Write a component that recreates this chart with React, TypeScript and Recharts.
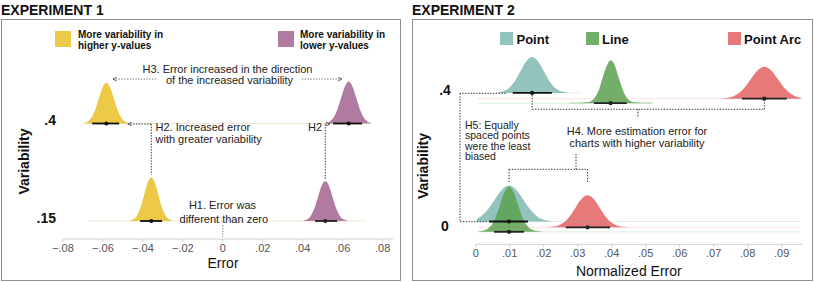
import React from 'react';
import { ComposedChart, Area, XAxis, YAxis, ReferenceLine, ReferenceDot } from 'recharts';

const FONT = '"Liberation Sans", Arial, Helvetica, sans-serif';

// ---------------- Experiment 1 ----------------
const E1_ROW_LABELS = ['.15', '.4'];
const E1_X_TICKS = [-0.08, -0.06, -0.04, -0.02, 0, 0.02, 0.04, 0.06, 0.08];
const E1_HIGHER_MEAN = [-0.0358, -0.0583];
const E1_HIGHER_LO = [-0.0414, -0.0654];
const E1_HIGHER_HI = [-0.0304, -0.0519];
const E1_LOWER_MEAN = [0.0513, 0.063];
const E1_LOWER_LO = [0.0462, 0.0552];
const E1_LOWER_HI = [0.0572, 0.0697];
const E1_EXTENT = [-0.0674, 0.0717];

const E1_HIGHER_DENS_015 = [[-0.0463, 0.005], [-0.0446, 0.02], [-0.0428, 0.061], [-0.0411, 0.146], [-0.0393, 0.273], [-0.0376, 0.397], [-0.0358, 0.45], [-0.0341, 0.397], [-0.0323, 0.273], [-0.0306, 0.146], [-0.0288, 0.061], [-0.0271, 0.02], [-0.0253, 0.005]];
const E1_HIGHER_DENS_04 = [[-0.0697, 0.005], [-0.0678, 0.018], [-0.0659, 0.057], [-0.064, 0.137], [-0.0621, 0.255], [-0.0602, 0.37], [-0.0583, 0.42], [-0.0564, 0.37], [-0.0545, 0.255], [-0.0526, 0.137], [-0.0507, 0.057], [-0.0488, 0.018], [-0.0469, 0.005]];
const E1_LOWER_DENS_015 = [[0.0405, 0.005], [0.0423, 0.018], [0.0441, 0.055], [0.0459, 0.133], [0.0477, 0.249], [0.0495, 0.362], [0.0513, 0.41], [0.0531, 0.362], [0.0549, 0.249], [0.0567, 0.133], [0.0585, 0.055], [0.0603, 0.018], [0.0621, 0.005]];
const E1_LOWER_DENS_04 = [[0.0516, 0.005], [0.0535, 0.019], [0.0554, 0.058], [0.0573, 0.14], [0.0592, 0.261], [0.0611, 0.379], [0.063, 0.43], [0.0649, 0.379], [0.0668, 0.261], [0.0687, 0.14], [0.0706, 0.058], [0.0725, 0.019], [0.0744, 0.005]];

// ---------------- Experiment 2 ----------------
const E2_ROW_LABELS = ['0', '.4'];
const E2_X_TICKS = [0, 0.01, 0.02, 0.03, 0.04, 0.05, 0.06, 0.07, 0.08, 0.09];
const E2_POINT_MEAN = [0.0098, 0.0166];
const E2_POINT_LO = [0.0039, 0.0109];
const E2_POINT_HI = [0.0154, 0.0224];
const E2_LINE_MEAN = [0.0098, 0.0397];
const E2_LINE_LO = [0.0054, 0.0348];
const E2_LINE_HI = [0.0142, 0.0444];
const E2_ARC_MEAN = [0.0329, 0.0849];
const E2_ARC_LO = [0.0265, 0.0783];
const E2_ARC_HI = [0.0395, 0.0915];
const E2_POINT_EXTENT = [[0.0007, 0.0954], [0.0086, 0.031]];
const E2_LINE_EXTENT = [[0.0007, 0.0954], [0.0007, 0.052]];
const E2_ARC_EXTENT = [[0.0007, 0.0954], [0.0007, 0.0954]];

const E2_POINT_DENS_0 = [[0.0003, 0.02], [0.0014, 0.038], [0.0035, 0.091], [0.0056, 0.17], [0.0077, 0.247], [0.0098, 0.28], [0.0119, 0.247], [0.014, 0.17], [0.0161, 0.091], [0.0182, 0.038], [0.0203, 0.012], [0.0224, 0.003]];
const E2_POINT_DENS_04 = [[0.0064, 0.003], [0.0081, 0.012], [0.0098, 0.038], [0.0115, 0.091], [0.0132, 0.17], [0.0149, 0.247], [0.0166, 0.28], [0.0183, 0.247], [0.02, 0.17], [0.0217, 0.091], [0.0234, 0.038], [0.0251, 0.012], [0.0268, 0.003]];
const E2_LINE_DENS_0 = [[0.0007, 0.003], [0.002, 0.008], [0.0033, 0.02], [0.0046, 0.05], [0.0059, 0.114], [0.0072, 0.212], [0.0085, 0.309], [0.0098, 0.35], [0.0111, 0.309], [0.0124, 0.212], [0.0137, 0.114], [0.015, 0.05], [0.0163, 0.02], [0.0176, 0.008], [0.0196, 0.003]];
const E2_LINE_DENS_04 = [[0.0275, 0.003], [0.0328, 0.008], [0.034, 0.018], [0.0351, 0.047], [0.0363, 0.109], [0.0374, 0.203], [0.0386, 0.295], [0.0397, 0.334], [0.0409, 0.295], [0.042, 0.203], [0.0432, 0.109], [0.0443, 0.047], [0.0455, 0.018], [0.0466, 0.008], [0.052, 0.003]];
const E2_ARC_DENS_0 = [[0.0213, 0.003], [0.0239, 0.011], [0.0257, 0.034], [0.0275, 0.081], [0.0293, 0.151], [0.0311, 0.22], [0.0329, 0.249], [0.0347, 0.22], [0.0365, 0.151], [0.0383, 0.081], [0.0401, 0.034], [0.0419, 0.011], [0.0445, 0.003]];
const E2_ARC_DENS_04 = [[0.0729, 0.003], [0.0749, 0.011], [0.0769, 0.034], [0.0789, 0.081], [0.0809, 0.151], [0.0829, 0.22], [0.0849, 0.249], [0.0869, 0.22], [0.0889, 0.151], [0.0909, 0.081], [0.0929, 0.034], [0.0949, 0.011], [0.0958, 0.006]];

// ---------------- styles / layout ----------------
const YELLOW = '#EDC948';
const PURPLE = '#B07AA1';
const TEAL = '#86BCB6';
const GREEN = '#59A14F';
const RED = '#E15759';
const E2_DODGE = { point: 0.045, arc: 0, line: -0.035 };

const toArea = (dens: number[][], base: number) => dens.map(([x, h]) => ({ x, v: [base, base + h] }));

const fmtTick = (v: number) => {
  if (Math.abs(v) < 1e-9) return '0';
  const s = Math.abs(v).toFixed(2).replace(/^0/, '');
  return (v < 0 ? '\u2212' : '') + s;
};

function RowTick(props: any) {
  const { x, y, payload, labels, dys, anchor } = props;
  const i = Math.round(payload.value);
  return (
    <text x={x} y={y + dys[i]} dy="0.36em" textAnchor={anchor} fontSize={14} fontWeight={700} fill="#111" fontFamily={FONT}>
      {labels[i]}
    </text>
  );
}

const arrowLine = (start: boolean, end: boolean) => (p: any) => (
  <line
    x1={p.x1}
    y1={p.y1}
    x2={p.x2}
    y2={p.y2}
    stroke={p.stroke}
    strokeWidth={p.strokeWidth}
    strokeDasharray={p.strokeDasharray}
    fill="none"
    markerStart={start ? 'url(#arrowhead)' : undefined}
    markerEnd={end ? 'url(#arrowhead)' : undefined}
  />
);

type Seg = { pts: number[][]; start?: boolean; end?: boolean; color?: string };

const E1_CONNECTORS: Seg[] = [
  { pts: [[-0.055, 1.456], [-0.0325, 1.456]], start: true, color: '#777' },
  { pts: [[0.0396, 1.456], [0.0596, 1.456]], end: true, color: '#777' },
  { pts: [[-0.0358, 0.995], [-0.0475, 0.995]], end: true },
  { pts: [[-0.0358, 0.995], [-0.0358, 0.472]] },
  { pts: [[0.0513, 0.431], [0.0513, 0.995]] },
  { pts: [[0.0513, 0.995], [0.0536, 0.995]], end: true },
  { pts: [[0, -0.041], [0, -0.164]], color: '#777' },
];

const E2_CONNECTORS: Seg[] = [
  { pts: [[0.0088, 1.042], [-0.0046, 1.042]] },
  { pts: [[-0.0046, 1.042], [-0.0046, 0.0435]] },
  { pts: [[-0.0046, 0.0435], [0.0032, 0.0435]] },
  { pts: [[0.0166, 1.029], [0.0166, 0.918]] },
  { pts: [[0.0166, 0.918], [0.0849, 0.918]] },
  { pts: [[0.0849, 0.918], [0.0849, 0.99]] },
  { pts: [[0.0477, 0.918], [0.0477, 0.85]] },
  { pts: [[0.0295, 0.57], [0.0295, 0.451]] },
  { pts: [[0.0098, 0.451], [0.0329, 0.451]] },
  { pts: [[0.0098, 0.451], [0.0098, 0.347]] },
  { pts: [[0.0329, 0.451], [0.0329, 0.347]] },
];

const renderConnectors = (list: Seg[], prefix: string) =>
  list.map((s, i) => (
    <ReferenceLine
      key={prefix + i}
      segment={[{ x: s.pts[0][0], y: s.pts[0][1] }, { x: s.pts[1][0], y: s.pts[1][1] }]}
      ifOverflow="visible"
      stroke={s.color || '#333'}
      strokeWidth={1}
      strokeDasharray="1.4 1.4"
      shape={arrowLine(!!s.start, !!s.end)}
    />
  ));

const interval = (key: string, lo: number, hi: number, mean: number, y: number, color: string) => [
  <ReferenceLine key={key + 'l'} segment={[{ x: lo, y }, { x: hi, y }]} ifOverflow="visible" stroke={color} strokeWidth={1.8} />,
  <ReferenceDot key={key + 'd'} x={mean} y={y} r={2.1} fill={color} stroke="none" ifOverflow="visible" />,
];

const faint = (key: string, ext: number[], y: number, color: string, op: number) => (
  <ReferenceLine key={key} segment={[{ x: ext[0], y }, { x: ext[1], y }]} ifOverflow="visible" stroke={color} strokeOpacity={op} strokeWidth={1} />
);

const slab = (key: string, dens: number[][], base: number, color: string, op: number) => (
  <Area
    key={key}
    data={toArea(dens, base)}
    dataKey="v"
    type="monotone"
    fill={color}
    fillOpacity={op}
    stroke="none"
    dot={false}
    activeDot={false}
    isAnimationActive={false}
  />
);

const axisTick = { fill: '#555', fontSize: 11, fontFamily: FONT };

function Exp1Chart() {
  return (
    <ComposedChart width={405} height={282} margin={{ top: 39, right: 12, bottom: 13, left: 23 }}>
      <XAxis
        type="number"
        dataKey="x"
        domain={[-0.08, 0.0852]}
        allowDataOverflow
        ticks={E1_X_TICKS}
        interval={0}
        tickFormatter={fmtTick}
        height={30}
        tickSize={3}
        tickMargin={2}
        axisLine={{ stroke: '#cfcfcf' }}
        tickLine={{ stroke: '#cfcfcf' }}
        tick={axisTick}
      />
      <YAxis
        type="number"
        domain={[-0.1846, 1.8667]}
        allowDataOverflow
        ticks={[0, 1]}
        width={40}
        axisLine={false}
        tickLine={false}
        tickSize={0}
        tickMargin={7}
        tick={(p: any) => <RowTick {...p} labels={E1_ROW_LABELS} dys={[-3, -3.5]} anchor="end" />}
      />
      {faint('f1a', E1_EXTENT, 0, YELLOW, 0.2)}
      {faint('f1b', E1_EXTENT, 0, PURPLE, 0.12)}
      {faint('f1c', E1_EXTENT, 1, YELLOW, 0.2)}
      {faint('f1d', E1_EXTENT, 1, PURPLE, 0.12)}
      {slab('s1', E1_HIGHER_DENS_015, 0, YELLOW, 1)}
      {slab('s2', E1_HIGHER_DENS_04, 1, YELLOW, 1)}
      {slab('s3', E1_LOWER_DENS_015, 0, PURPLE, 1)}
      {slab('s4', E1_LOWER_DENS_04, 1, PURPLE, 1)}
      {interval('i1', E1_HIGHER_LO[0], E1_HIGHER_HI[0], E1_HIGHER_MEAN[0], 0, '#111')}
      {interval('i2', E1_HIGHER_LO[1], E1_HIGHER_HI[1], E1_HIGHER_MEAN[1], 1, '#111')}
      {interval('i3', E1_LOWER_LO[0], E1_LOWER_HI[0], E1_LOWER_MEAN[0], 0, '#222')}
      {interval('i4', E1_LOWER_LO[1], E1_LOWER_HI[1], E1_LOWER_MEAN[1], 1, '#111')}
      {renderConnectors(E1_CONNECTORS, 'c1')}
    </ComposedChart>
  );
}

function Exp2Chart() {
  const rows = [0, 1];
  return (
    <ComposedChart width={409} height={282} margin={{ top: 39, right: 11, bottom: 7.7, left: 30.7 }}>
      <XAxis
        type="number"
        dataKey="x"
        domain={[0, 0.09626]}
        allowDataOverflow
        ticks={E2_X_TICKS}
        interval={0}
        tickFormatter={fmtTick}
        height={30}
        tickSize={3}
        tickMargin={2}
        axisLine={{ stroke: '#cfcfcf' }}
        tickLine={{ stroke: '#cfcfcf' }}
        tick={axisTick}
      />
      <YAxis
        type="number"
        domain={[-0.1322, 1.4642]}
        allowDataOverflow
        ticks={[0, 1]}
        width={40}
        axisLine={false}
        tickLine={false}
        tickSize={0}
        tickMargin={30.7}
        tick={(p: any) => <RowTick {...p} labels={E2_ROW_LABELS} dys={[-1.3, -8.7]} anchor="middle" />}
      />
      {rows.map((r) => faint('fp' + r, E2_POINT_EXTENT[r], r + E2_DODGE.point, TEAL, 0.25))}
      {rows.map((r) => faint('fa' + r, E2_ARC_EXTENT[r], r + E2_DODGE.arc, RED, 0.18))}
      {rows.map((r) => faint('fl' + r, E2_LINE_EXTENT[r], r + E2_DODGE.line, GREEN, 0.18))}
      {slab('p0', E2_POINT_DENS_0, 0 + E2_DODGE.point, TEAL, 0.9)}
      {slab('p1', E2_POINT_DENS_04, 1 + E2_DODGE.point, TEAL, 0.9)}
      {slab('a0', E2_ARC_DENS_0, 0 + E2_DODGE.arc, RED, 0.8)}
      {slab('a1', E2_ARC_DENS_04, 1 + E2_DODGE.arc, RED, 0.8)}
      {slab('l0', E2_LINE_DENS_0, 0 + E2_DODGE.line, GREEN, 0.85)}
      {slab('l1', E2_LINE_DENS_04, 1 + E2_DODGE.line, GREEN, 0.85)}
      {rows.map((r) => interval('ip' + r, E2_POINT_LO[r], E2_POINT_HI[r], E2_POINT_MEAN[r], r + E2_DODGE.point, '#111'))}
      {rows.map((r) => interval('ia' + r, E2_ARC_LO[r], E2_ARC_HI[r], E2_ARC_MEAN[r], r + E2_DODGE.arc, '#222'))}
      {rows.map((r) => interval('il' + r, E2_LINE_LO[r], E2_LINE_HI[r], E2_LINE_MEAN[r], r + E2_DODGE.line, '#222'))}
      {renderConnectors(E2_CONNECTORS, 'c2')}
    </ComposedChart>
  );
}

function Overlay() {
  const t = { fontFamily: FONT, fontSize: 11, fill: '#222' } as any;
  const t5 = { fontFamily: FONT, fontSize: 10.5, fill: '#222' } as any;
  const b = { fontFamily: FONT, fontWeight: 700, fill: '#111' } as any;
  return (
    <svg width={814} height={282} style={{ position: 'absolute', left: 0, top: 0, pointerEvents: 'none' }}>
      <defs>
        <marker id="arrowhead" viewBox="0 0 5 5" refX={4.5} refY={2.5} markerWidth={5} markerHeight={5} markerUnits="userSpaceOnUse" orient="auto-start-reverse">
          <path d="M0.6,0.5 L4.5,2.5 L0.6,4.5" fill="none" stroke="#555" strokeWidth={0.9} />
        </marker>
      </defs>
      <text x={1} y={15} fontSize={14} {...b}>EXPERIMENT 1</text>
      <text x={412} y={15} fontSize={14} {...b}>EXPERIMENT 2</text>

      <rect x={55} y={31} width={16} height={16} fill={YELLOW} />
      <text x={78} y={37.6} fontSize={10} {...b}>More variability in</text>
      <text x={78} y={48.6} fontSize={10} {...b}>higher y-values</text>
      <rect x={278} y={31} width={16} height={16} fill={PURPLE} />
      <text x={300} y={37.6} fontSize={10} {...b}>More variability in</text>
      <text x={300} y={48.6} fontSize={10} {...b}>lower y-values</text>

      <rect x={500} y={32} width={13} height={13} fill={TEAL} fillOpacity={0.9} />
      <text x={516.5} y={43.5} fontSize={13} {...b}>Point</text>
      <rect x={586} y={32} width={13} height={13} fill={GREEN} fillOpacity={0.85} />
      <text x={602} y={43.5} fontSize={13} {...b}>Line</text>
      <rect x={728} y={32} width={13} height={13} fill={RED} fillOpacity={0.8} />
      <text x={744} y={43.5} fontSize={13} {...b}>Point Arc</text>

      <text x={227.5} y={73.3} textAnchor="middle" {...t}>H3. Error increased in the direction</text>
      <text x={229.5} y={84} textAnchor="middle" {...t}>of the increased variability</text>
      <text x={155.5} y={131} {...t}>H2. Increased error</text>
      <text x={155.5} y={142.5} {...t}>with greater variability</text>
      <text x={308} y={131} {...t}>H2</text>
      <text x={222.5} y={209} textAnchor="middle" {...t}>H1. Error was</text>
      <text x={223.8} y={222.7} textAnchor="middle" {...t}>different than zero</text>

      <text x={465} y={128.5} {...t5}>H5: Equally</text>
      <text x={465} y={139} {...t5}>spaced points</text>
      <text x={465} y={149.5} {...t5}>were the least</text>
      <text x={465} y={160} {...t5}>biased</text>
      <text x={637} y={135} textAnchor="middle" {...t}>H4. More estimation error for</text>
      <text x={637} y={147.3} textAnchor="middle" {...t}>charts with higher variability</text>

      <text x={223} y={268} textAnchor="middle" fontFamily={FONT} fontSize={14} fill="#111">Error</text>
      <text x={628.8} y={276} textAnchor="middle" fontFamily={FONT} fontSize={14} fill="#111">Normalized Error</text>
      <text transform="translate(28.5,161.5) rotate(-90)" textAnchor="middle" fontSize={14} {...b}>Variability</text>
      <text transform="translate(428,166) rotate(-90)" textAnchor="middle" fontSize={14} {...b}>Variability</text>
    </svg>
  );
}

export default function App() {
  return (
    <div style={{ position: 'absolute', left: 0, top: 0, width: 814, height: 282, background: '#fff', fontFamily: FONT }}>
      <div style={{ position: 'absolute', left: 1, top: 18.5, width: 400, height: 262.5, border: '1.5px solid #8f8f8f', boxSizing: 'border-box' }} />
      <div style={{ position: 'absolute', left: 412, top: 18.5, width: 401, height: 262.5, border: '1.5px solid #8f8f8f', boxSizing: 'border-box' }} />
      <div style={{ position: 'absolute', left: 0, top: 0 }}>
        <Exp1Chart />
      </div>
      <div style={{ position: 'absolute', left: 405, top: 0 }}>
        <Exp2Chart />
      </div>
      <Overlay />
    </div>
  );
}
